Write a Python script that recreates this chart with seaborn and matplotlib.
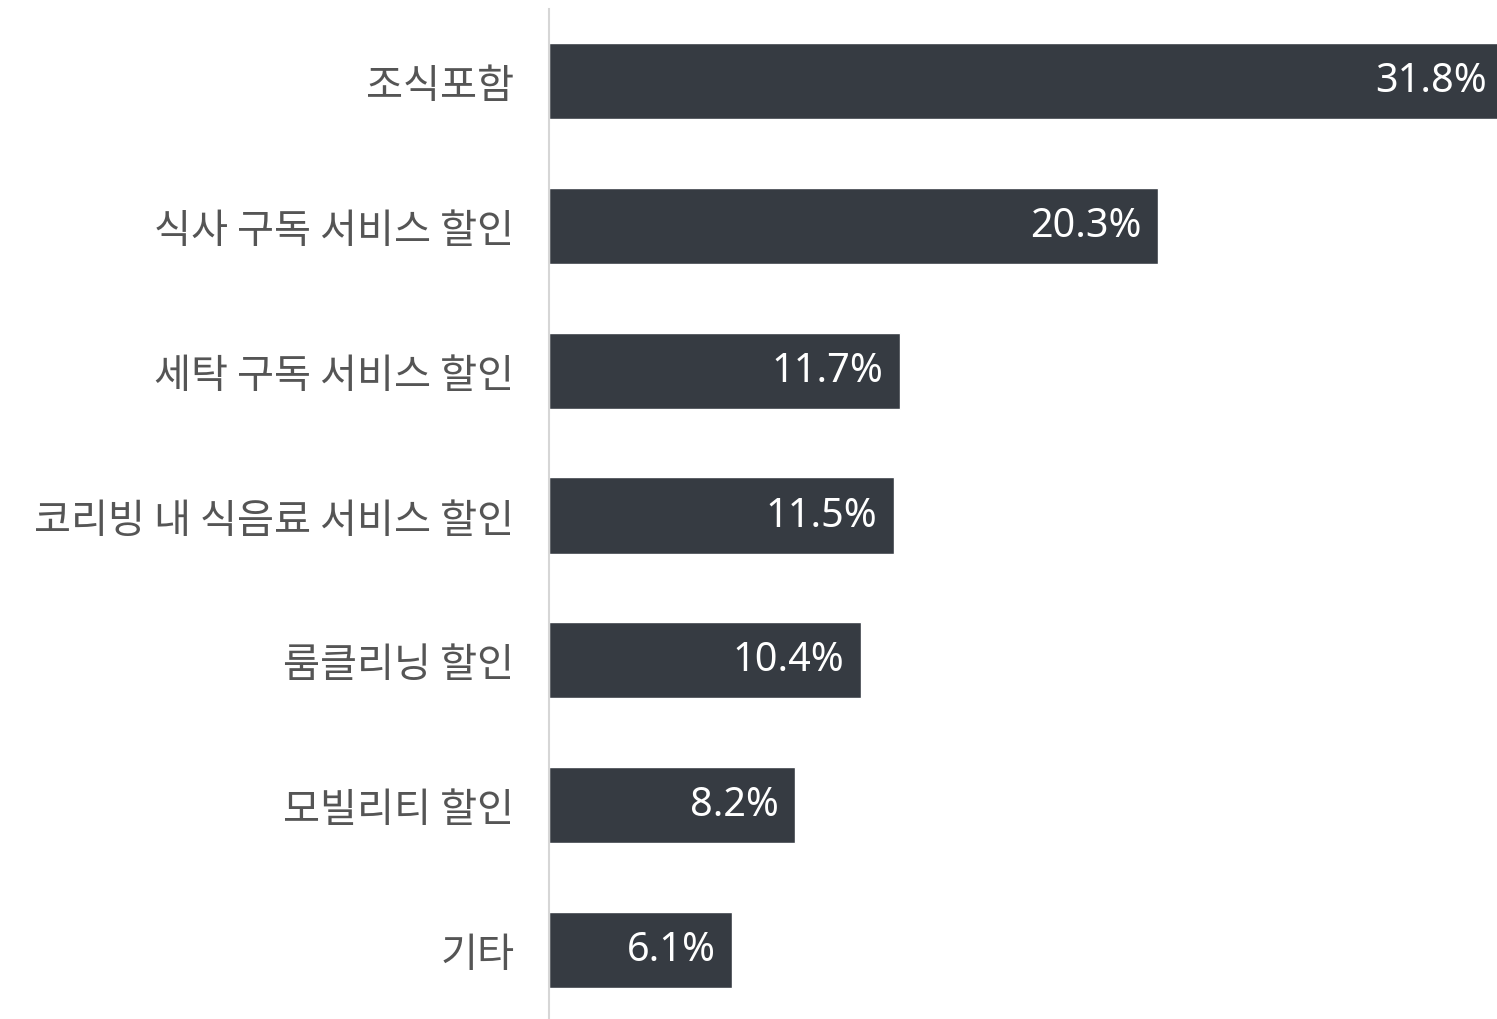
import matplotlib
matplotlib.use('Agg')
import matplotlib.pyplot as plt
import seaborn as sns
import pandas as pd

# data
categories = ['조식포함', '식사 구독 서비스 할인', '세탁 구독 서비스 할인',
              '코리빙 내 식음료 서비스 할인', '룸클리닝 할인', '모빌리티 할인', '기타']
values = [31.8, 20.3, 11.7, 11.5, 10.4, 8.2, 6.1]
value_labels = ['31.8%', '20.3%', '11.7%', '11.5%', '10.4%', '8.2%', '6.1%']

df = pd.DataFrame({'category': categories, 'value': values})

sns.set_theme(style='white')
plt.rcParams['font.family'] = ['Noto Sans CJK KR', 'DejaVu Sans']

W, H = 1497, 1020
fig = plt.figure(figsize=(W / 100, H / 100), dpi=100)
# axes: left edge at x=549, top at y=10, bottom slightly below the figure
spacing = 144.8
top = 82 - spacing / 2
bottom = 951 + spacing / 2
ax = fig.add_axes([549 / W, 1 - bottom / H, 1 - 549 / W, (bottom - top) / H])

sns.barplot(data=df, y='category', x='value', orient='h', color='#363b42',
            width=0.525, saturation=1, ax=ax)

ax.set_xlim(0, 31.6)
ax.set_ylim(6.5, -0.5)
ax.set_xlabel('')
ax.set_ylabel('')
ax.set_xticks([])
for s in ['top', 'right', 'bottom']:
    ax.spines[s].set_visible(False)
ax.spines['left'].set_color('#d6d6d6')
ax.spines['left'].set_linewidth(1.5)
ax.tick_params(axis='y', length=0, pad=25, labelsize=29, labelcolor='#555555')

for i, (v, lab) in enumerate(zip(values, value_labels)):
    ax.text(v - 0.55, i, lab, ha='right', va='center', color='white',
            fontsize=28.5, family=['Noto Sans', 'Noto Sans CJK KR'])

fig.savefig('out.png', dpi=100)
